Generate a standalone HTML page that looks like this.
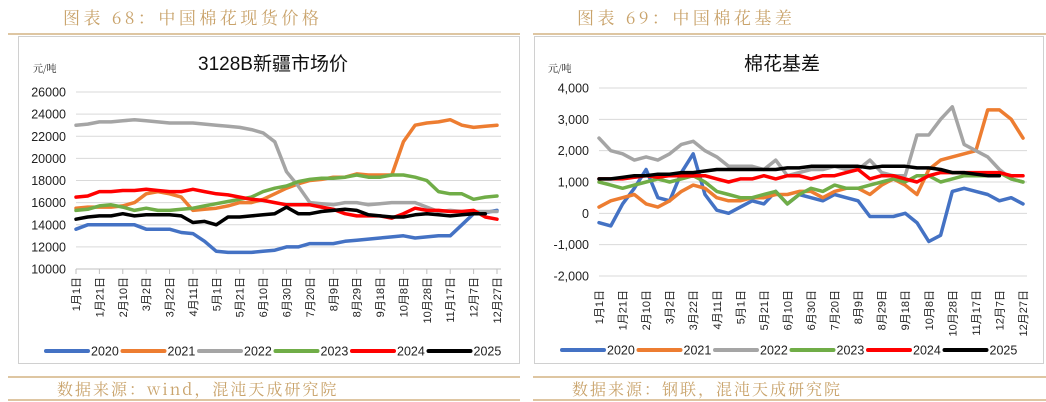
<!DOCTYPE html>
<html><head><meta charset="utf-8">
<style>
body{margin:0;width:1046px;height:402px;background:#fff;overflow:hidden;font-family:"Liberation Sans","Noto Sans CJK SC",sans-serif;}
svg{position:absolute;left:0;top:0}
</style></head>
<body>
<svg id="svg" width="1046" height="402" viewBox="0 0 1046 402">
 <g font-family="'Noto Serif CJK SC','Liberation Serif',serif" fill="#c9a36b" font-size="17" letter-spacing="3.5">
  <text x="63" y="24">图表 68：中国棉花现货价格</text>
  <text x="577" y="24">图表 69：中国棉花基差</text>
  <text x="57" y="395" font-size="16" letter-spacing="2">数据来源：wind，混沌天成研究院</text>
  <text x="572" y="395" font-size="16" letter-spacing="2">数据来源：钢联，混沌天成研究院</text>
 </g>
 <line x1="8" y1="34" x2="520" y2="34" stroke="#c9a36b" stroke-width="1.2"/>
 <line x1="533" y1="34" x2="1046" y2="34" stroke="#c9a36b" stroke-width="1.2"/>
 <line x1="8" y1="377" x2="520" y2="377" stroke="#c9a36b" stroke-width="1.2"/>
 <line x1="533" y1="377" x2="1046" y2="377" stroke="#c9a36b" stroke-width="1.2"/>
 <line x1="8" y1="400" x2="520" y2="400" stroke="#c9a36b" stroke-width="1.2"/>
 <line x1="533" y1="400" x2="1046" y2="400" stroke="#c9a36b" stroke-width="1.2"/>
 <rect x="18.5" y="36.5" width="501" height="327" fill="none" stroke="#d0d0d0"/>
 <rect x="534.5" y="36.5" width="509" height="327" fill="none" stroke="#d0d0d0"/>
</svg>
<script>
const dateLabels=["1月1日","1月21日","2月10日","3月2日","3月22日","4月11日","5月1日","5月21日","6月10日","6月30日","7月20日","8月9日","8月29日","9月18日","10月8日","10月28日","11月17日","12月7日","12月27日"];
const years=["2020","2021","2022","2023","2024","2025"];
const colors=["#4472c4","#ed7d31","#a5a5a5","#70ad47","#ff0000","#000000"];
const spot2020=[13600,14000,14000,14000,14000,14000,13600,13600,13600,13300,13200,12500,11600,11500,11500,11500,11600,11700,12000,12000,12300,12300,12300,12500,12600,12700,12800,12900,13000,12800,12900,13000,13000,14000,15000,15100,15300];
const spot2021=[15500,15600,15600,15600,15700,16000,16800,17000,16800,16500,15300,15400,15500,15700,16000,16000,16300,16800,17300,17700,18000,18100,18300,18300,18600,18500,18500,18500,21500,23000,23200,23300,23500,23000,22800,22900,23000];
const spot2022=[23000,23100,23300,23300,23400,23500,23400,23300,23200,23200,23200,23100,23000,22900,22800,22600,22300,21500,18800,17500,16000,15900,15800,16000,16000,15800,15900,16000,16000,16000,15600,15200,15300,15200,15200,15200,15200];
const spot2023=[15300,15400,15700,15800,15600,15300,15500,15300,15300,15400,15500,15700,15900,16100,16300,16500,17000,17300,17500,17900,18100,18200,18200,18300,18500,18300,18300,18500,18500,18300,18000,17000,16800,16800,16300,16500,16600];
const spot2024=[16500,16600,17000,17000,17100,17100,17200,17100,17000,17000,17200,17000,16800,16700,16500,16300,16200,16000,15800,15800,15800,15600,15400,15000,14800,14800,14800,14600,15000,15500,15300,15300,15200,15200,15300,14700,14500];
const spot2025=[14500,14700,14800,14800,15000,14800,14900,14900,14900,14800,14200,14300,14000,14700,14700,14800,14900,15000,15600,15000,15000,15200,15300,15400,15300,14900,14800,14700,14700,14900,15000,14900,14800,14900,15000,15000,null];
const basis2020=[-300,-400,300,800,1400,500,400,1300,1900,600,100,0,200,400,300,700,300,600,500,400,600,500,400,-100,-100,-100,0,-300,-900,-700,700,800,700,600,400,500,300];
const basis2021=[200,400,500,600,300,200,400,700,900,800,500,400,400,500,500,600,600,700,700,500,700,800,800,600,900,1100,900,600,1400,1700,1800,1900,2000,3300,3300,3000,2400];
const basis2022=[2400,2000,1900,1700,1800,1700,1900,2200,2300,2000,1800,1500,1500,1500,1400,1700,1200,1300,1400,1400,1500,1400,1400,1700,1300,1200,1200,2500,2500,3000,3400,2200,2000,1800,1400,1100,1000];
const basis2023=[1000,900,800,900,1000,1100,1000,1100,1200,1000,700,600,500,500,600,700,300,600,800,700,900,800,800,900,1000,1100,1000,1200,1200,1000,1100,1200,1200,1200,1300,1100,1000];
const basis2024=[1100,1100,1100,1150,1200,1150,1200,1200,1200,1200,1100,1000,1100,1100,1200,1100,1200,1200,1100,1200,1200,1300,1400,1100,1200,1200,1100,1000,1200,1300,1300,1300,1300,1300,1300,1200,1200];
const basis2025=[1100,1100,1150,1200,1200,1250,1250,1300,1300,1350,1400,1400,1400,1400,1400,1400,1450,1450,1500,1500,1500,1500,1500,1450,1500,1500,1500,1450,1450,1400,1300,1300,1250,1200,1200,null,null];
const leftTicks=[10000,12000,14000,16000,18000,20000,22000,24000,26000];
const rightTicks=[-2000,-1000,0,1000,2000,3000,4000];
const rightTickLabels=["-2,000","-1,000","0","1,000","2,000","3,000","4,000"];

const NS="http://www.w3.org/2000/svg";
const svg=document.getElementById('svg');
function mk(tag,attrs,parent){const e=document.createElementNS(NS,tag);for(const k in attrs)e.setAttribute(k,attrs[k]);(parent||svg).appendChild(e);return e;}

function drawChart(cfg){
  const g=mk('g',{});
  
  
  const xs=d=>cfg.x0+d*(cfg.x1-cfg.x0)/360;
  const ys=v=>cfg.yTop+(cfg.vmax-v)*(cfg.yBot-cfg.yTop)/(cfg.vmax-cfg.vmin);
  const t=mk('text',{x:cfg.titleX,y:70,'font-size':19,'text-anchor':'middle',fill:'#111','font-family':"'Liberation Sans','Noto Sans CJK SC',sans-serif"},g);
  t.textContent=cfg.title;
  
  
  const u=mk('text',{x:cfg.unitX,y:72,'font-size':10,fill:'#111','font-family':"'Noto Serif CJK SC',serif"},g);
  u.textContent='元/吨';
  
  
  cfg.ticks.forEach((v,i)=>{
    const y=ys(v);
    const l=mk('line',{x1:cfg.x0,x2:cfg.x1+4,y1:y,y2:y,stroke:(v===cfg.vmin&&cfg.prefix==='left')?'#bfbfbf':'#d9d9d9','stroke-width':1},g);
    
    
    const tx=mk('text',{x:cfg.x0-10,y:y+4.5,'font-size':12.5,'text-anchor':'end',fill:'#222'},g);
    tx.textContent=cfg.tickLabels[i];
    
    
  });
  const axisY=cfg.axisY;
  dateLabels.forEach((lab,i)=>{
    const x=xs(i*20);
    if(cfg.prefix==='left'){const tk=mk('line',{x1:x,x2:x,y1:axisY,y2:axisY+5,stroke:'#bfbfbf'},g);
      
      }
    const tx=mk('text',{transform:`translate(${x+4},${axisY+8}) rotate(-90)`,'font-size':11,'text-anchor':'end',fill:'#222','font-family':"'Liberation Sans','Noto Sans CJK SC',sans-serif"},g);
    tx.textContent=lab;
    
    
  });
  cfg.series.forEach((arr,si)=>{
    let d='';let pen=false;
    arr.forEach((v,i)=>{if(v===null){pen=false;return;}d+=(pen?'L':'M')+xs(i*10).toFixed(1)+','+ys(v).toFixed(1);pen=true;});
    const p=mk('path',{d:d,fill:'none',stroke:colors[si],'stroke-width':3.5,'stroke-linejoin':'round','stroke-linecap':'round'},g);
    
    
  });
  years.forEach((yr,i)=>{
    const lx=cfg.legX+i*76.5;
    const l=mk('line',{x1:lx,x2:lx+42,y1:cfg.legY,y2:cfg.legY,stroke:colors[i],'stroke-width':4,'stroke-linecap':'round'},g);
    
    
    const tx=mk('text',{x:lx+45,y:cfg.legY+4.5,'font-size':12.5,fill:'#222'},g);
    tx.textContent=yr;
    
    
  });
}
drawChart({prefix:'left',title:'3128B新疆市场价',titleX:273,unitX:33,x0:76,x1:497,yTop:92,yBot:269,vmin:10000,vmax:26000,ticks:leftTicks,tickLabels:leftTicks.map(String),axisY:269,legX:46,legY:351,series:[spot2020,spot2021,spot2022,spot2023,spot2024,spot2025]});
drawChart({prefix:'right',title:'棉花基差',titleX:782,unitX:548,x0:599,x1:1023,yTop:88,yBot:276,vmin:-2000,vmax:4000,ticks:rightTicks,tickLabels:rightTickLabels,axisY:282,legX:562,legY:350,series:[basis2020,basis2021,basis2022,basis2023,basis2024,basis2025]});
</script>
</body></html>
